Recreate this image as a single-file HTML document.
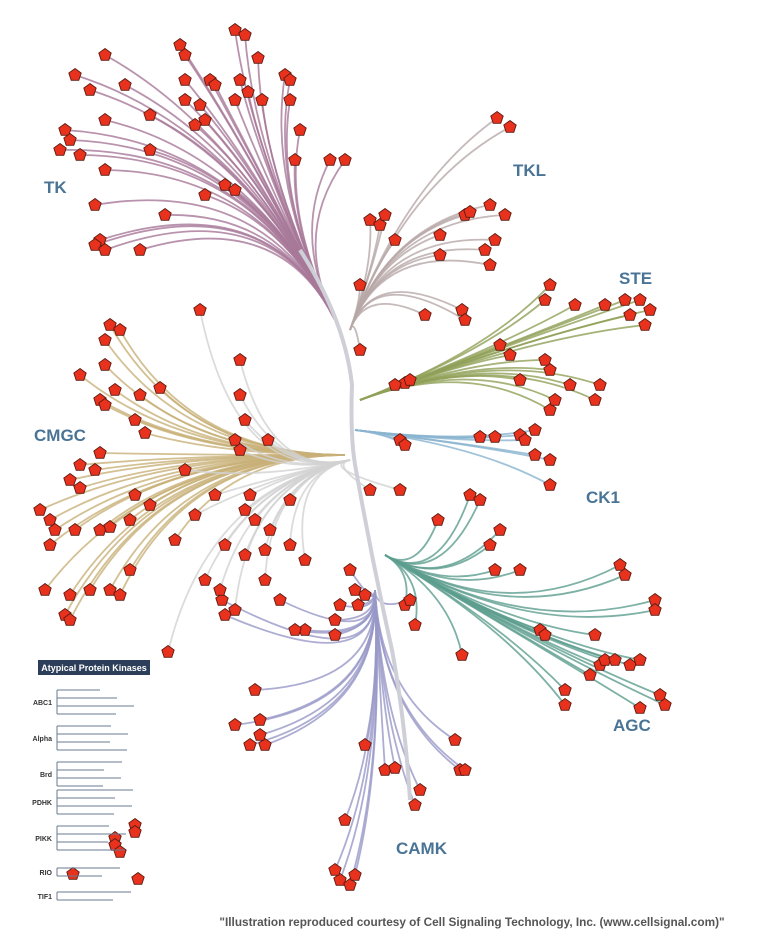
<!DOCTYPE html>
<html><head><meta charset="utf-8">
<style>
html,body{margin:0;padding:0;background:#fff;}
#wrap{position:relative;width:775px;height:945px;overflow:hidden;font-family:"Liberation Sans",sans-serif;}
svg{position:absolute;left:0;top:0;}
.glabel{font-family:"Liberation Sans",sans-serif;font-weight:bold;font-size:17px;fill:#4a7496;}
</style></head>
<body>
<div id="wrap">
<svg id="svg" width="775" height="945" viewBox="0 0 775 945">
  <g id="branches"></g>
  <path d="M300 250 Q345 320 352 385 Q350 440 356 470 Q372 560 392 650 Q405 720 410 800" fill="none" stroke="#cfcfd8" stroke-width="4"/>
  <g id="markers"></g>
  <g id="atyp">
    <rect x="38" y="660" width="112" height="15" fill="#2d3e5a"/>
    <text x="94" y="671" text-anchor="middle" font-size="9" font-weight="bold" fill="#fff" font-family="Liberation Sans, sans-serif">Atypical Protein Kinases</text>
  </g>
  <text class="glabel" x="44" y="193">TK</text>
  <text class="glabel" x="513" y="176">TKL</text>
  <text class="glabel" x="619" y="284">STE</text>
  <text class="glabel" x="34" y="441">CMGC</text>
  <text class="glabel" x="586" y="503">CK1</text>
  <text class="glabel" x="613" y="731">AGC</text>
  <text class="glabel" x="396" y="854">CAMK</text>
  <text x="472" y="926" text-anchor="middle" font-size="11.8" font-weight="bold" fill="#555" font-family="Liberation Sans, sans-serif">"Illustration reproduced courtesy of Cell Signaling Technology, Inc. (www.cellsignal.com)"</text>
</svg>
</div>
<script>
const groupNames = ["TK","TKL","STE","CK1","AGC","CAMK","CMGC","OTHER"];
const TK = [[75,75],[105,55],[180,45],[185,55],[235,30],[245,35],[258,58],[285,75],[290,80],[90,90],[125,85],[185,80],[210,80],[215,85],[240,80],[248,92],[185,100],[200,105],[235,100],[262,100],[290,100],[205,120],[150,115],[105,120],[65,130],[70,140],[80,155],[150,150],[195,125],[300,130],[330,160],[345,160],[295,160],[105,170],[225,185],[235,190],[205,195],[95,205],[165,215],[100,240],[95,245],[105,250],[140,250],[60,150]];
const TKL = [[497,118],[510,127],[370,220],[380,225],[385,215],[465,215],[470,212],[490,205],[505,215],[440,235],[395,240],[490,265],[495,240],[485,250],[440,255],[360,285],[360,350],[462,310],[465,320],[425,315]];
const STE = [[550,285],[545,300],[575,305],[605,305],[625,300],[640,300],[650,310],[645,325],[630,315],[500,345],[510,355],[545,360],[550,370],[570,385],[600,385],[595,400],[520,380],[405,383],[395,385],[410,380],[550,410],[555,400]];
const CK1 = [[400,440],[405,445],[480,437],[495,437],[520,435],[535,430],[525,440],[535,455],[550,485],[550,460]];
const AGC = [[438,520],[470,495],[480,500],[500,530],[620,565],[625,575],[655,600],[655,610],[540,630],[595,635],[545,635],[600,665],[605,660],[615,660],[630,665],[640,660],[565,690],[565,705],[660,695],[665,705],[640,708],[590,675],[462,655],[405,605],[415,625],[490,545],[495,570],[520,570]];
const CAMK = [[255,690],[260,720],[250,745],[265,745],[260,735],[235,725],[305,630],[335,620],[335,635],[340,605],[358,605],[365,595],[355,590],[350,570],[280,600],[295,630],[365,745],[385,770],[395,768],[460,770],[465,770],[455,740],[420,790],[415,805],[345,820],[340,880],[350,885],[355,875],[335,870],[225,615],[222,600],[410,600]];
const CMGC = [[110,325],[120,330],[105,340],[80,375],[105,365],[115,390],[100,400],[105,405],[140,395],[160,388],[135,420],[145,433],[80,465],[70,480],[95,470],[100,453],[80,488],[40,510],[50,520],[55,530],[50,545],[75,530],[100,530],[110,527],[130,520],[175,540],[130,570],[45,590],[70,595],[90,590],[110,590],[120,595],[65,615],[70,620],[135,495],[150,505]];
const OTHER = [[240,360],[240,395],[245,420],[235,440],[240,450],[268,440],[200,310],[215,495],[250,495],[245,510],[255,520],[270,530],[225,545],[245,555],[265,550],[205,580],[220,590],[235,610],[195,515],[265,580],[168,652],[290,545],[305,560],[290,500],[185,470],[400,490],[370,490]];
const ATYPICAL = [[135,825],[135,832],[115,838],[115,845],[120,852],[73,874],[138,879]];
const atypFamilies = ["ABC1","Alpha","Brd","PDHK","PIKK","RIO","TIF1"];
const atypY = [702,738,774,802,838,872,896];

const groupData = [TK,TKL,STE,CK1,AGC,CAMK,CMGC,OTHER];
const hubs = [[335,320],[350,330],[360,400],[355,430],[385,555],[375,590],[345,455],[350,460]];
const dirs = [[-0.45,-0.9],[0.35,-0.94],[0.94,-0.35],[1,0.12],[0.85,0.5],[0.05,1],[-1,0],[-0.9,0.2]];
const colors = ["#a87898","#b8a8a8","#90a058","#8ab4d0","#5c9e8e","#9898c8","#c8b078","#d2d2d2"];
const NS = "http://www.w3.org/2000/svg";
const br = document.getElementById('branches');
const mk = document.getElementById('markers');

groupData.forEach((pts,gi)=>{
  const [hx,hy]=hubs[gi], [dx,dy]=dirs[gi];
  pts.forEach((p)=>{
    const len=Math.hypot(p[0]-hx,p[1]-hy);
    const cx=hx+dx*len*0.6, cy=hy+dy*len*0.6;
    const path=document.createElementNS(NS,'path');
    path.setAttribute('d',`M${hx} ${hy} Q${cx} ${cy} ${p[0]} ${p[1]}`);
    path.setAttribute('fill','none');
    path.setAttribute('stroke',colors[gi]);
    path.setAttribute('stroke-width','1.8');
    path.setAttribute('opacity','0.8');
    
    
    br.appendChild(path);
  });
});

const atyp=document.getElementById('atyp');
atypFamilies.forEach((f,i)=>{
  const y=atypY[i];
  const t=document.createElementNS(NS,'text');
  t.setAttribute('x','52');t.setAttribute('y',y+3);
  t.setAttribute('text-anchor','end');
  t.setAttribute('font-size','7');t.setAttribute('font-weight','bold');
  t.setAttribute('fill','#333');t.setAttribute('font-family','Liberation Sans, sans-serif');
  t.textContent=f;
  
  
  atyp.appendChild(t);
  const n = (f==="RIO"||f==="TIF1")?2:4;
  const top=y-(n-1)*4, bot=y+(n-1)*4;
  let d=`M57 ${top} V${bot}`;
  for(let k=0;k<n;k++){ const yy=top+k*8; d+=` M57 ${yy} H${100+((k*17+i*11)%35)}`; }
  const pth=document.createElementNS(NS,'path');
  pth.setAttribute('d',d);pth.setAttribute('stroke','#6a7890');pth.setAttribute('stroke-width','1');pth.setAttribute('fill','none');
  
  
  atyp.appendChild(pth);
});

function pentagon(x,y,r){
  let s=[];
  for(let k=0;k<5;k++){const a=-Math.PI/2+k*2*Math.PI/5;s.push((x+r*Math.cos(a)).toFixed(1)+','+(y+r*Math.sin(a)).toFixed(1));}
  return s.join(' ');
}
groupData.concat([ATYPICAL]).forEach((pts)=>{
  pts.forEach(p=>{
    const pg=document.createElementNS(NS,'polygon');
    pg.setAttribute('points',pentagon(p[0],p[1],6.5));
    pg.setAttribute('fill','#e8321e');
    pg.setAttribute('stroke','#5a1a10');
    pg.setAttribute('stroke-width','0.9');
    
    
    mk.appendChild(pg);
  });
});
</script>
</body></html>
